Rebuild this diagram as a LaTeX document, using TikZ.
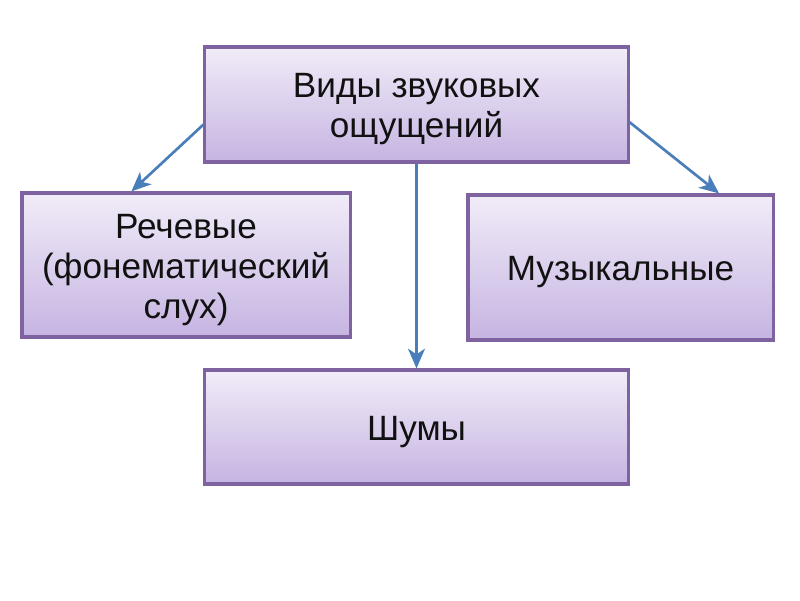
\documentclass[tikz,border=0pt]{standalone}
\usepackage{fontspec}
\setmainfont{Liberation Sans}
\usetikzlibrary{arrows.meta,calc,shadows}
\definecolor{frame}{HTML}{7F63A1}
\definecolor{boxtop}{HTML}{F1ECF8}
\definecolor{boxbot}{HTML}{C6B4E2}
\definecolor{link}{HTML}{4A7EBB}
\definecolor{ink}{HTML}{111111}
\tikzset{>={Stealth[length=14pt,width=12pt,inset=4pt]},
  every node/.style={font=\fontsize{25}{28.5}\selectfont,text=ink},
  kind/.style={draw=frame,line width=2.2pt,top color=boxtop,bottom color=boxbot,
    inner sep=0pt,
    drop shadow={shadow xshift=1.6pt,shadow yshift=-1.6pt,opacity=.3,fill=black!60}},
  caption/.style={align=center,inner sep=0pt,yshift=-3.5pt},
  arrowline/.style={->,draw=link,line width=1.9pt}}

\begin{document}
\begin{tikzpicture}[x=0.025cm,y=-0.025cm]
\useasboundingbox (0,0) rectangle (800,600);
% top box and the three kinds below it
\node[kind,minimum width=10.575cm,minimum height=2.875cm] (vidy) at (416.5,104.5) {};
\node[kind,minimum width=8.2cm,minimum height=3.6cm] (rech) at (186,265) {};
\node[kind,minimum width=7.625cm,minimum height=3.625cm] (muz) at (620.5,267.5) {};
\node[kind,minimum width=10.575cm,minimum height=2.85cm] (shum) at (416.5,427) {};
\node[caption] (vidyT) at (vidy.center) {Виды звуковых\\ощущений};
\node[caption] (rechT) at (rech.center) {Речевые\\(фонематический\\слух)};
\node[caption] (muzT) at (muz.center) {Музыкальные};
\node[caption] (shumT) at (shum.center) {Шумы};
% connector ends on the box edges
\coordinate (vidyL) at ($(vidy.south west)!.33!(vidy.north west)$);
\coordinate (vidyR) at ($(vidy.south east)!.35!(vidy.north east)$);
\coordinate (rechN) at ($(rech.north west)!.335!(rech.north east)$);
\coordinate (muzN) at ($(muz.north west)!.82!(muz.north east)$);
\draw[arrowline] (vidyL) -- (rechN);
\draw[arrowline] (vidyR) -- (muzN);
\draw[arrowline] (vidy.south) -- (shum.north);
\end{tikzpicture}
\end{document}
